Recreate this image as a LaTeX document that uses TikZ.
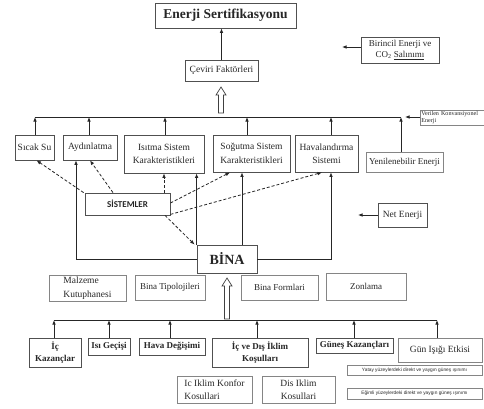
\documentclass[tikz,border=0pt]{standalone}
\usepackage{fontspec}
\setmainfont{Liberation Serif}
\newfontfamily\sysfont{Carlito}
\newfontfamily\smallsans{Liberation Sans}
\usetikzlibrary{arrows.meta}
\definecolor{bord}{HTML}{505050}
\definecolor{lbord}{HTML}{858585}
\definecolor{txt}{HTML}{262626}
\begin{document}
\begin{tikzpicture}[x=1pt,y=-1pt,
  box/.style={draw=bord, line width=0.8pt, inner sep=1pt, align=center, text=txt, font=\fontsize{9.5}{13.5}\selectfont},
  lbox/.style={box, draw=lbord},
  arr/.style={draw=black!85, line width=0.8pt, -{Latex[length=4.5pt,width=3.6pt]}},
  dsh/.style={arr, dash pattern=on 3pt off 2pt},
  busl/.style={draw=black!85, line width=0.8pt},
  hollow/.style={draw=black!75, line width=0.7pt, fill=white}]
\useasboundingbox (0,0) rectangle (484,408);
\fill[white] (0,0) rectangle (484,408);

% top
\node[box, minimum width=141pt, minimum height=25pt, font=\bfseries\fontsize{13.5}{15}\selectfont] (enerji) at (225.5,15.5) {Enerji Sertifikasyonu};
\node[box, minimum width=73pt, minimum height=21pt] (ceviri) at (221.5,70.5) {Çeviri Faktörleri};
\draw[arr] (ceviri.north) -- (ceviri.north |- enerji.south);
\node[box, minimum width=78pt, minimum height=26pt, font=\fontsize{9}{11}\selectfont] (birincil) at (400,50) {Birincil Enerji ve\\CO\textsubscript{2} \underline{Salınımı}};
\coordinate (birE) at (342,47);
\draw[arr] (birincil.west |- birE) -- (birE);

% hollow arrow 1
\draw[hollow] (218.5,113) -- (218.5,95) -- (216,95) -- (221,87) -- (226,95) -- (223.5,95) -- (223.5,113) -- cycle;

% bus 1
\coordinate (t1) at (35,117);
\coordinate (t2) at (89,117);
\coordinate (t3) at (165,117);
\coordinate (t4) at (247,117);
\coordinate (t5) at (331,117);
\coordinate (t6) at (401,117);
\draw[busl] (t1) -- (t6);

\node[lbox, anchor=west, text width=70pt, minimum height=15pt, inner sep=1pt, align=left, font=\fontsize{6.1}{7}\selectfont] (verilen) at (420,117.5) {Verilen Konvansiyonel\\Enerji};
\coordinate (vE) at (405,117);
\draw[arr] (verilen.west |- vE) -- (vE);

% system row
\node[box, minimum width=39pt, minimum height=25pt] (sicak) at (34.5,147.5) {Sıcak Su};
\node[box, minimum width=54pt, minimum height=25pt] (aydin) at (90,147.5) {Aydınlatma};
\node[box, minimum width=80pt, minimum height=38pt] (isitma) at (164,154) {Isıtma Sistem\\Karakteristikleri};
\node[box, minimum width=77pt, minimum height=37pt] (sogutma) at (251.5,153.5) {Soğutma Sistem\\Karakteristikleri};
\node[box, minimum width=63pt, minimum height=37pt] (havalan) at (326.5,153.5) {Havalandırma\\Sistemi};
\node[lbox, minimum width=77pt, minimum height=20pt, font=\fontsize{9}{11}\selectfont] (yenilen) at (404.5,162) {Yenilenebilir Enerji};

\draw[arr] (sicak.north -| t1) -- (t1);
\draw[arr] (aydin.north -| t2) -- (t2);
\draw[arr] (isitma.north -| t3) -- (t3);
\draw[arr] (sogutma.north -| t4) -- (t4);
\draw[arr] (havalan.north -| t5) -- (t5);
\draw[arr] (yenilen.north -| t6) -- (t6);

% sistemler
\node[box, minimum width=85pt, minimum height=22pt, font=\sysfont\bfseries\fontsize{9}{11}\selectfont] (sis) at (127.5,204) {SİSTEMLER};
\node[box, minimum width=49pt, minimum height=24pt] (net) at (402.5,215) {Net Enerji};
\coordinate (nE) at (358,215);
\draw[arr] (net.west) -- (nE);

% bina
\node[box, minimum width=60pt, minimum height=28pt, font=\bfseries\fontsize{14}{16}\selectfont] (bina) at (227,259) {BİNA};

\draw[arr] (bina.west) -| ([xshift=-14pt]aydin.south);
\draw[arr] (bina.east) -| ([xshift=4.5pt]havalan.south);
\draw[arr] (bina.north west) -- (bina.north west |- isitma.south);
\draw[arr] ([xshift=15pt]bina.north) -- ([xshift=15pt]bina.north |- sogutma.south);

% dashed
\draw[dsh] ([xshift=-1pt]sis.north west) -- ([xshift=2pt]sicak.south);
\draw[dsh] ([xshift=-14.5pt]sis.north) -- (aydin.south);
\draw[dsh] ([xshift=36.5pt]sis.north) -- (isitma.south);
\draw[dsh] ([yshift=1pt]sis.east) -- ([xshift=-21.5pt]sogutma.south);
\draw[dsh] ([yshift=1pt]sis.south east) -- ([xshift=-4.5pt]havalan.south);
\draw[dsh] ([xshift=37.5pt]sis.south) -- ([xshift=-2pt]bina.north west);

% below bina
\node[lbox, minimum width=77pt, minimum height=26pt, align=left] (malzeme) at (87.5,288) {Malzeme\\Kutuphanesi};
\node[lbox, minimum width=70pt, minimum height=25pt, font=\fontsize{9}{11}\selectfont] (tipo) at (170,287.5) {Bina Tipolojileri};
\node[lbox, minimum width=77pt, minimum height=25pt, font=\fontsize{9}{11}\selectfont] (formlari) at (279.5,287.5) {Bina Formlari};
\node[lbox, minimum width=80pt, minimum height=27pt, font=\fontsize{9}{11}\selectfont] (zonlama) at (366,286.5) {Zonlama};

% hollow arrow 2
\draw[hollow] (224.5,319) -- (224.5,286) -- (222,286) -- (227,278) -- (232,286) -- (229.5,286) -- (229.5,319) -- cycle;

% bus 2
\coordinate (u1) at (54,320);
\coordinate (u2) at (109,320);
\coordinate (u3) at (170,320);
\coordinate (u4) at (257,320);
\coordinate (u5) at (354,320);
\coordinate (u6) at (437,320);
\draw[busl] (u1) -- (u6);

\node[box, minimum width=52pt, minimum height=29pt, font=\bfseries\fontsize{9}{12}\selectfont] (ickaz) at (55,352.5) {İç\\Kazançlar};
\node[box, minimum width=42pt, minimum height=17pt, font=\bfseries\fontsize{9}{11}\selectfont] (isi) at (109,346.5) {Isı Geçişi};
\node[box, minimum width=66pt, minimum height=17pt, font=\bfseries\fontsize{9}{11}\selectfont] (hava) at (172,346.5) {Hava Değişimi};
\node[box, minimum width=96pt, minimum height=29pt, font=\bfseries\fontsize{9}{12}\selectfont] (icdis) at (260,352.5) {İç ve Dış İklim\\Koşulları};
\node[box, minimum width=77pt, minimum height=15pt, font=\bfseries\fontsize{9}{11}\selectfont] (gunes) at (354.5,345.5) {Güneş Kazançları};
\node[lbox, minimum width=84pt, minimum height=24pt] (gun) at (440,350) {Gün Işığı Etkisi};

\draw[arr] (ickaz.north -| u1) -- (u1);
\draw[arr] (isi.north -| u2) -- (u2);
\draw[arr] (hava.north -| u3) -- (u3);
\draw[arr] (icdis.north -| u4) -- (u4);
\draw[arr] (gunes.north -| u5) -- (u5);
\draw[arr] (gun.north -| u6) -- (u6);

\node[lbox, minimum width=75pt, minimum height=27pt, align=left, font=\fontsize{9.5}{13}\selectfont] (konfor) at (214.5,389.5) {Ic Iklim Konfor\\Kosullari};
\node[lbox, minimum width=73pt, minimum height=27pt, font=\fontsize{9.5}{13}\selectfont] (disiklim) at (298.5,389.5) {Dis Iklim\\Kosullari};
\node[lbox, minimum width=135pt, minimum height=10pt, inner sep=0.5pt, font=\smallsans\fontsize{4.8}{5.5}\selectfont] (yatay) at (414.5,370) {Yatay yüzeylerdeki direkt ve yaygın güneş ışınımı};
\node[lbox, minimum width=135pt, minimum height=11pt, inner sep=0.5pt, font=\smallsans\fontsize{4.8}{5.5}\selectfont] (egimli) at (414.5,393.5) {Eğimli yüzeylerdeki direkt ve yaygın güneş ışınımı};
\end{tikzpicture}
\end{document}
